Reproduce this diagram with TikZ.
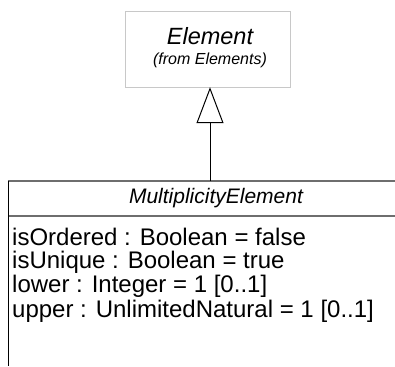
\documentclass[tikz,border=0pt]{standalone}
\usepackage{fontspec}
\setmainfont{Liberation Sans}
\usetikzlibrary{positioning, arrows.meta}
\definecolor{boxgray}{RGB}{200,200,200}
\definecolor{linegray}{RGB}{110,110,110}
\tikzset{
	classname/.style={font=\fontsize{21}{24}\selectfont\itshape, inner sep=0pt}
}
\tikzset{
	attrtext/.style={font=\fontsize{24}{26}\selectfont, inner sep=0pt, anchor=west}
}

\begin{document}
\begin{tikzpicture}[x=1pt, y=-1pt]
      \useasboundingbox (0,0) rectangle (395,366);
      % superclass
      \node[draw=boxgray, minimum width=165pt, minimum height=76pt, inner sep=0pt] (element) at (207.5,49) {};
      \node[classname, font=\fontsize{23.5}{26}\selectfont\itshape] (elname) at (210,36) {Element};
      \node[font=\fontsize{16}{18}\selectfont\itshape, inner sep=0pt] (elpkg) at (210,60) {(from Elements)};
      % subclass, cut off at the right and bottom
      \coordinate (clstl) at (8,181);
      \coordinate (gen) at (210,181);
      \draw[linegray, line width=2pt] (clstl) -- (395,181);
      \draw[linegray, line width=2pt] (8,216) -- (395,216);
      \draw[line width=1pt] (clstl) -- (8,366);
      \node[classname] (mename) at (216,198) {MultiplicityElement};
      \node[attrtext] (ordered) at (12,237) {isOrdered : Boolean = false};
      \node[attrtext] (unique) at (12,262) {isUnique : Boolean = true};
      \node[attrtext] (lower) at (12,286) {lower : Integer = 1 [0..1]};
      \node[attrtext] (upper) at (12,311) {upper : UnlimitedNatural = 1 [0..1]};
      % generalization
      \draw[line width=1pt, -{Triangle[open, length=36pt, width=27pt]}] (gen) -- (gen |- element.south);
    \end{tikzpicture}
\end{document}
